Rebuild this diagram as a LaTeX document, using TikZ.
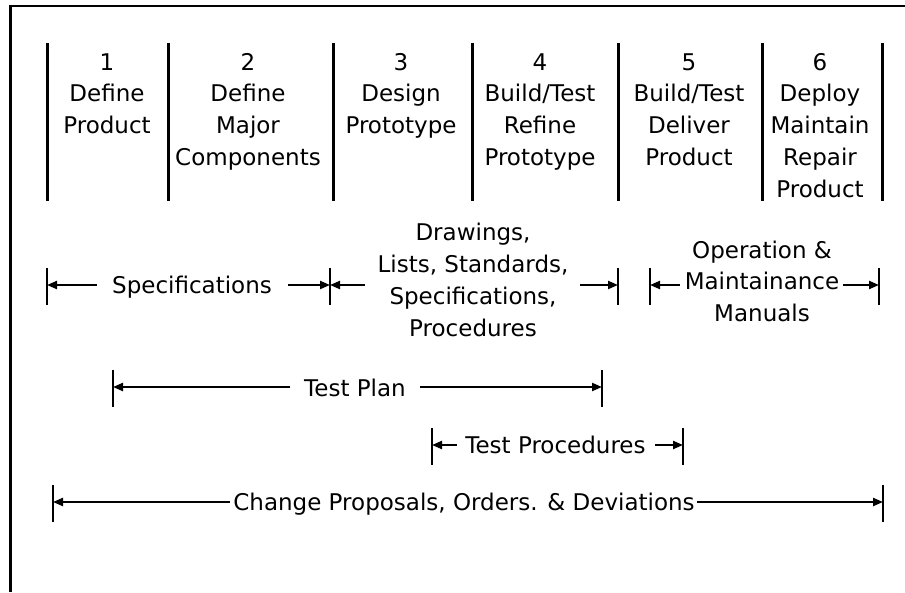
\documentclass[tikz,border=0pt]{standalone}
\usepackage{fontspec}
\setmainfont{DejaVu Sans}
\usetikzlibrary{arrows.meta}
\begin{document}
\begin{tikzpicture}[x=1pt,y=-1pt,
  lbl/.style={inner sep=0pt, anchor=base, align=center,
              font=\fontsize{23}{31.75}\selectfont},
  frameline/.style={line width=2.6pt, line join=miter},
  sepline/.style={line width=3pt},
  tickline/.style={line width=2.6pt},
  dimarrow/.style={line width=2.2pt, -{Triangle[length=10pt,width=8pt]}}]
\useasboundingbox (0,0) rectangle (905,592);
\fill[white] (0,0) rectangle (905,592);

% open frame: left and top edges only
\coordinate (fb) at (10.3,592);
\coordinate (fc) at (10.3,6);
\coordinate (fr) at (905,6);
\draw[frameline] (fb) -- (fc) -- (fr);

% phase separators
\foreach \i/\x in {0/47,1/168,2/333,3/472,4/618,5/762,6/882}{
  \coordinate (sep\i t) at (\x,43);
  \coordinate (sep\i b) at (\x,201);
  \draw[sepline] (sep\i t) -- (sep\i b);
}

% phase titles (base anchor = baseline of the last line)
\node[lbl] (ph1) at (107,133.5)  {1\\Define\\Product};
\node[lbl] (ph2) at (248,165.25) {2\\Define\\Major\\Components};
\node[lbl] (ph3) at (401,133.5)  {3\\Design\\Prototype};
\node[lbl] (ph4) at (540,165.25) {4\\Build/Test\\Refine\\Prototype};
\node[lbl] (ph5) at (689,165.25) {5\\Build/Test\\Deliver\\Product};
\node[lbl] (ph6) at (820,197)    {6\\Deploy\\Maintain\\Repair\\Product};

% document spans
\node[lbl] (spec) at (192,293.5) {Specifications};
\node[lbl] (dwg) at (473,336) {Drawings,\\Lists, Standards,\\Specifications,\\Procedures};
\node[lbl] (ops) at (762,321.5) {Operation \&\\Maintainance\\Manuals};
\node[lbl] (plan) at (355,396.5) {Test Plan};
\node[lbl] (proc) at (555.5,453) {Test Procedures};
\node[lbl] (chg) at (464,510) {Change Proposals, Orders. \& Deviations};

% tick positions (on the arrow line)
\coordinate (t1) at (47,285);
\coordinate (t2) at (330,285);
\coordinate (t3) at (618,285);
\coordinate (t4) at (650,285);
\coordinate (t5) at (879,285);
\coordinate (tb1) at (113,387);
\coordinate (tb2) at (602,387);
\coordinate (tc1) at (432,445);
\coordinate (tc2) at (683,445);
\coordinate (td1) at (53,502);
\coordinate (td2) at (883,502);
\foreach \t in {t1,t2,t3,t4,t5,tb1,tb2,tc1,tc2,td1,td2}{
  \draw[tickline] (\t) ++(0,-17) -- ++(0,37);
}

% arrow tails next to the labels
\coordinate (a1) at (97,285);
\coordinate (a2) at (288,285);
\coordinate (a3) at (365,285);
\coordinate (a4) at (580,285);
\coordinate (a5) at (680,285);
\coordinate (a6) at (843,285);
\coordinate (b1) at (290,387);
\coordinate (b2) at (420,387);
\coordinate (c1) at (457,445);
\coordinate (c2) at (655,445);
\coordinate (d1) at (230,502);
\coordinate (d2) at (697,502);

\draw[dimarrow] (a1) -- (t1);
\draw[dimarrow] (a2) -- (t2);
\draw[dimarrow] (a3) -- (t2);
\draw[dimarrow] (a4) -- (t3);
\draw[dimarrow] (a5) -- (t4);
\draw[dimarrow] (a6) -- (t5);
\draw[dimarrow] (b1) -- (tb1);
\draw[dimarrow] (b2) -- (tb2);
\draw[dimarrow] (c1) -- (tc1);
\draw[dimarrow] (c2) -- (tc2);
\draw[dimarrow] (d1) -- (td1);
\draw[dimarrow] (d2) -- (td2);
\end{tikzpicture}
\end{document}
